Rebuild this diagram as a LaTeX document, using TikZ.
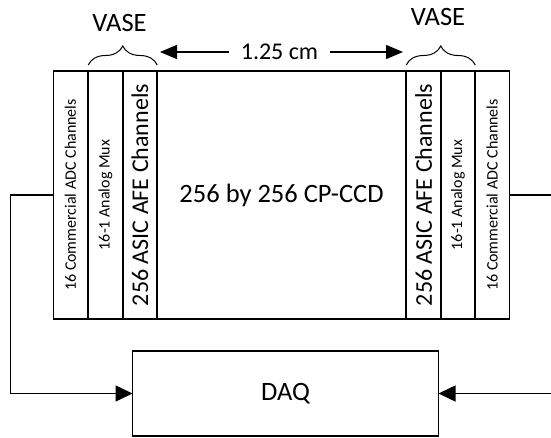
\documentclass[tikz,border=0pt]{standalone}
\usepackage{fontspec}
\setmainfont{Carlito}
\usetikzlibrary{arrows.meta,decorations.pathreplacing}

\begin{document}
\begin{tikzpicture}[
  x=1pt,y=-1pt,
  every node/.style={font=\fontsize{24}{28}\selectfont},
  bigtxt/.style={font=\fontsize{26.5}{31}\selectfont},
  colbox/.style={draw,line width=1.5pt,outer sep=0pt,inner sep=0pt,
                 minimum width=34.5pt,minimum height=248pt},
  ccdbox/.style={draw,line width=1.5pt,outer sep=0pt,inner sep=0pt,bigtxt,
                 minimum width=249pt,minimum height=248pt},
  daqbox/.style={draw,line width=1.5pt,outer sep=0pt,bigtxt,
                 minimum width=306pt,minimum height=85pt},
  sidetxt/.style={rotate=90,font=\fontsize{16}{19}\selectfont},
  asictxt/.style={rotate=90},
  vase/.style={decorate,decoration={brace,amplitude=19pt,raise=6pt},line width=1pt},
  arr/.style={-{Triangle[length=17pt,width=16pt]},line width=1.5pt},
  dimarr/.style={-{Triangle[length=17pt,width=14pt]},line width=1.5pt},
]
  \useasboundingbox (0,0) rectangle (551,438);
  \clip (0,0) rectangle (551,438);

  % Left VASE columns
  \node[colbox] (adcL) at (70.5,195) {};
  \node[colbox] (muxL) at (105.5,195) {};
  \node[colbox] (asicL) at (140,195) {};

  % Sensor
  \node[ccdbox] (ccd) at (281.5,195) {256 by 256 CP-CCD};

  % Right VASE columns
  \node[colbox] (asicR) at (423.5,195) {};
  \node[colbox] (muxR) at (458,195) {};
  \node[colbox] (adcR) at (492,195) {};

  % Column labels
  \node[sidetxt] (adcLtxt) at (adcL) {16 Commercial ADC Channels};
  \node[sidetxt] (muxLtxt) at (muxL) {16-1 Analog Mux};
  \node[asictxt] (asicLtxt) at (asicL) {256 ASIC AFE Channels};
  \node[asictxt] (asicRtxt) at (asicR) {256 ASIC AFE Channels};
  \node[sidetxt] (muxRtxt) at (muxR) {16-1 Analog Mux};
  \node[sidetxt] (adcRtxt) at (adcR) {16 Commercial ADC Channels};

  % VASE braces
  \draw[vase] (muxL.north west) -- (asicL.north east);
  \draw[vase] (asicR.north west) -- (muxR.north east);
  \node[bigtxt] (vaseL) at (119.5,22.5) {VASE};
  \node[bigtxt] (vaseR) at (438,17) {VASE};

  % Sensor width
  \node[inner xsep=12pt] (dimlbl) at (279.5,52) {1.25 cm};
  \coordinate (dimL) at (160,52);
  \coordinate (dimR) at (403,52);
  \draw[dimarr] (dimlbl) -- (dimL);
  \draw[dimarr] (dimlbl) -- (dimR);

  % Readout
  \node[daqbox] (daq) at (285.5,393.5) {DAQ};
  \draw[arr] (adcL.west) -- ++(-43,0) |- (daq.west);
  \draw[arr] (adcR.east) -- ++(47,0) |- (daq.east);
\end{tikzpicture}
\end{document}
